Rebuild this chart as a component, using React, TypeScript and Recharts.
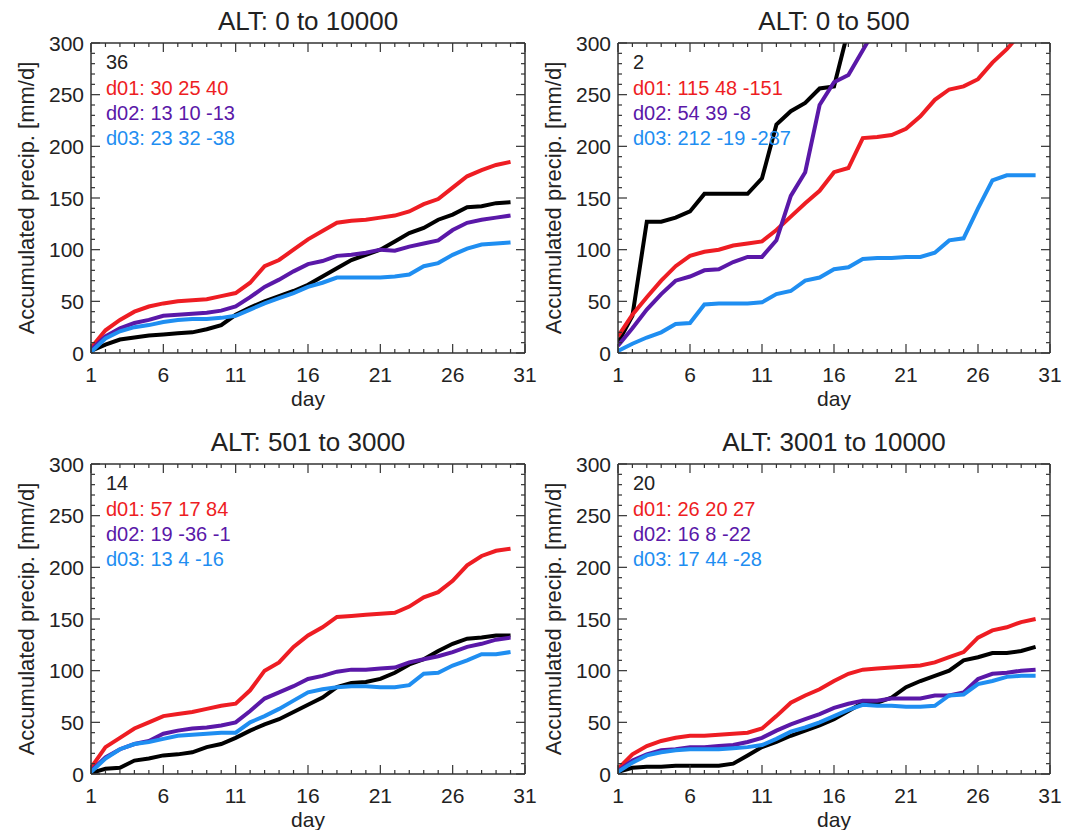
import React from 'react';
import { LineChart, Line, XAxis, YAxis } from 'recharts';

const DAYS = [1, 2, 3, 4, 5, 6, 7, 8, 9, 10, 11, 12, 13, 14, 15, 16, 17, 18, 19, 20, 21, 22, 23, 24, 25, 26, 27, 28, 29, 30];
const X_TICKS = [1, 2, 3, 4, 5, 6, 7, 8, 9, 10, 11, 12, 13, 14, 15, 16, 17, 18, 19, 20, 21, 22, 23, 24, 25, 26, 27, 28, 29, 30, 31];
const X_LABELS = [1, 6, 11, 16, 21, 26, 31];
const Y_TICKS = [0, 10, 20, 30, 40, 50, 60, 70, 80, 90, 100, 110, 120, 130, 140, 150, 160, 170, 180, 190, 200, 210, 220, 230, 240, 250, 260, 270, 280, 290, 300];
const Y_LABELS = [0, 50, 100, 150, 200, 250, 300];

// ALT: 0 to 10000
const OBS_ALL = [2, 8, 13, 15, 17, 18, 19, 20, 23, 27, 37, 44, 50, 55, 60, 66, 74, 82, 90, 95, 100, 108, 116, 121, 129, 134, 141, 142, 145, 146];
const D01_ALL = [5, 22, 32, 40, 45, 48, 50, 51, 52, 55, 58, 68, 84, 90, 100, 110, 118, 126, 128, 129, 131, 133, 137, 144, 149, 160, 171, 177, 182, 185];
const D02_ALL = [3, 16, 24, 29, 32, 36, 37, 38, 39, 41, 45, 54, 64, 71, 79, 86, 89, 94, 95, 97, 100, 99, 103, 106, 109, 119, 126, 129, 131, 133];
const D03_ALL = [1, 14, 21, 25, 27, 30, 32, 33, 33, 34, 36, 42, 48, 53, 58, 64, 68, 73, 73, 73, 73, 74, 76, 84, 87, 95, 101, 105, 106, 107];

// ALT: 0 to 500 (curves leave the frame at the top)
const OBS_LOW = [10, 36, 127, 127, 131, 137, 154, 154, 154, 154, 169, 221, 234, 242, 256, 258, 313, null, null, null, null, null, null, null, null, null, null, null, null, null];
const D01_LOW = [16, 37, 54, 70, 84, 94, 98, 100, 104, 106, 108, 119, 132, 145, 157, 175, 179, 208, 209, 211, 217, 229, 245, 255, 258, 265, 281, 294, 310, null];
const D02_LOW = [7, 24, 42, 57, 70, 74, 80, 81, 88, 93, 93, 109, 152, 175, 240, 262, 269, 293, 317, null, null, null, null, null, null, null, null, null, null, null];
const D03_LOW = [2, 9, 15, 20, 28, 29, 47, 48, 48, 48, 49, 57, 60, 70, 73, 81, 83, 91, 92, 92, 93, 93, 97, 109, 111, 140, 167, 172, 172, 172];

// ALT: 501 to 3000
const OBS_MID = [1, 5, 6, 13, 15, 18, 19, 21, 26, 29, 35, 42, 48, 53, 60, 67, 74, 84, 88, 89, 92, 98, 106, 111, 119, 126, 131, 132, 134, 134];
const D01_MID = [6, 26, 35, 44, 50, 56, 58, 60, 63, 66, 68, 81, 100, 108, 123, 134, 142, 152, 153, 154, 155, 156, 162, 171, 176, 187, 202, 211, 216, 218];
const D02_MID = [3, 16, 24, 29, 32, 39, 42, 44, 45, 47, 50, 61, 73, 79, 85, 92, 95, 99, 101, 101, 102, 103, 108, 111, 114, 118, 123, 126, 130, 132];
const D03_MID = [2, 15, 24, 29, 31, 34, 37, 38, 39, 40, 40, 50, 56, 63, 71, 79, 82, 84, 85, 85, 84, 84, 86, 97, 98, 105, 110, 116, 116, 118];

// ALT: 3001 to 10000
const OBS_HIGH = [2, 6, 7, 7, 8, 8, 8, 8, 10, 18, 26, 31, 37, 42, 47, 53, 61, 69, 69, 74, 84, 90, 95, 100, 110, 113, 117, 117, 119, 123];
const D01_HIGH = [5, 19, 27, 32, 35, 37, 37, 38, 39, 40, 44, 56, 69, 76, 82, 90, 97, 101, 102, 103, 104, 105, 108, 113, 118, 132, 139, 142, 147, 150];
const D02_HIGH = [3, 13, 19, 23, 24, 26, 26, 27, 28, 31, 35, 42, 48, 53, 58, 64, 68, 71, 71, 73, 73, 73, 76, 76, 79, 92, 97, 98, 100, 101];
const D03_HIGH = [2, 11, 18, 21, 23, 24, 24, 24, 25, 26, 28, 34, 41, 45, 50, 56, 62, 67, 66, 66, 65, 65, 66, 76, 77, 87, 90, 94, 95, 95];

const FONT = '"Liberation Sans", Arial, Helvetica, sans-serif';
const FRAME = '#333';
const TEXT = '#222';
const C_OBS = '#000000';
const C_D01 = '#ee1d23';
const C_D02 = '#5a18a8';
const C_D03 = '#1f8ef1';

const ML = 91;
const MT = 43;
const MR = 20;
const PLOT_H = 310;
const CHART_H = 415;

const BottomTick = (props: any) => {
  const { x, y, payload } = props;
  const major = X_LABELS.includes(payload.value);
  return (
    <g>
      <line x1={x} x2={x} y1={y} y2={y - (major ? 9 : 4)} stroke={FRAME} strokeWidth={1.2} />
      {major && (
        <text x={x} y={y + 21} textAnchor="middle" dominantBaseline="central" fontSize={21} fill={TEXT} fontFamily={FONT}>
          {payload.value}
        </text>
      )}
    </g>
  );
};

const TopTick = (props: any) => {
  const { x, y, payload } = props;
  const major = X_LABELS.includes(payload.value);
  return <line x1={x} x2={x} y1={y} y2={y + (major ? 9 : 4)} stroke={FRAME} strokeWidth={1.2} />;
};

const LeftTick = (props: any) => {
  const { x, y, payload } = props;
  const major = Y_LABELS.includes(payload.value);
  return (
    <g>
      <line x1={x} x2={x + (major ? 9 : 4)} y1={y} y2={y} stroke={FRAME} strokeWidth={1.2} />
      {major && (
        <text x={x - 7} y={y} textAnchor="end" dominantBaseline="central" fontSize={21} fill={TEXT} fontFamily={FONT}>
          {payload.value}
        </text>
      )}
    </g>
  );
};

const RightTick = (props: any) => {
  const { x, y, payload } = props;
  const major = Y_LABELS.includes(payload.value);
  return <line x1={x} x2={x - (major ? 9 : 4)} y1={y} y2={y} stroke={FRAME} strokeWidth={1.2} />;
};

interface PanelProps {
  title: string;
  count: string;
  stats: string[];
  obs: (number | null)[];
  d01: (number | null)[];
  d02: (number | null)[];
  d03: (number | null)[];
  plotLeft: number;
  plotTop: number;
  plotWidth: number;
}

function Panel({ title, count, stats, obs, d01, d02, d03, plotLeft, plotTop, plotWidth }: PanelProps) {
  const data = DAYS.map((day, i) => ({ day, obs: obs[i], d01: d01[i], d02: d02[i], d03: d03[i] }));
  const width = ML + plotWidth + MR;
  const cx = ML + plotWidth / 2;
  const statColors = [C_D01, C_D02, C_D03];
  const axisLine = { stroke: FRAME, strokeWidth: 1.5 };
  // axes are 1px thick (zero-size axes are not drawn), so margins give that pixel back
  const margin = { top: MT - 1, left: ML - 1, right: MR - 1, bottom: CHART_H - MT - PLOT_H - 1 };

  return (
    <div style={{ position: 'absolute', left: plotLeft - ML, top: plotTop - MT, width, height: CHART_H, fontFamily: FONT }}>
      <LineChart width={width} height={CHART_H} data={data} margin={margin}>
        <XAxis
          xAxisId="b"
          type="number"
          dataKey="day"
          domain={[1, 31]}
          ticks={X_TICKS}
          interval={0}
          allowDataOverflow
          height={1}
          tickSize={0}
          tickMargin={0}
          tickLine={false}
          axisLine={axisLine}
          tick={<BottomTick />}
        />
        <XAxis
          xAxisId="t"
          orientation="top"
          type="number"
          dataKey="day"
          domain={[1, 31]}
          ticks={X_TICKS}
          interval={0}
          allowDataOverflow
          height={1}
          tickSize={0}
          tickMargin={0}
          tickLine={false}
          axisLine={axisLine}
          tick={<TopTick />}
        />
        <YAxis
          yAxisId="l"
          type="number"
          domain={[0, 300]}
          ticks={Y_TICKS}
          interval={0}
          allowDataOverflow
          width={1}
          tickSize={0}
          tickMargin={0}
          tickLine={false}
          axisLine={axisLine}
          tick={<LeftTick />}
        />
        <YAxis
          yAxisId="r"
          orientation="right"
          type="number"
          domain={[0, 300]}
          ticks={Y_TICKS}
          interval={0}
          allowDataOverflow
          width={1}
          tickSize={0}
          tickMargin={0}
          tickLine={false}
          axisLine={axisLine}
          tick={<RightTick />}
        />
        <Line xAxisId="b" yAxisId="l" type="linear" dataKey="obs" stroke={C_OBS} strokeWidth={4} dot={false} isAnimationActive={false} />
        <Line xAxisId="b" yAxisId="l" type="linear" dataKey="d01" stroke={C_D01} strokeWidth={4} dot={false} isAnimationActive={false} />
        <Line xAxisId="b" yAxisId="l" type="linear" dataKey="d02" stroke={C_D02} strokeWidth={4} dot={false} isAnimationActive={false} />
        <Line xAxisId="b" yAxisId="l" type="linear" dataKey="d03" stroke={C_D03} strokeWidth={4} dot={false} isAnimationActive={false} />
      </LineChart>

      <div style={{ position: 'absolute', left: cx, top: 21, transform: 'translate(-50%, -50%)', fontSize: 26, lineHeight: '26px', color: TEXT, whiteSpace: 'nowrap' }}>
        {title}
      </div>
      <div style={{ position: 'absolute', left: 27, top: MT + PLOT_H / 2, transform: 'translate(-50%, -50%) rotate(-90deg)', fontSize: 22, lineHeight: '22px', color: TEXT, whiteSpace: 'nowrap' }}>
        Accumulated precip. [mm/d]
      </div>
      <div style={{ position: 'absolute', left: cx, top: MT + PLOT_H + 45, transform: 'translate(-50%, -50%)', fontSize: 21, lineHeight: '21px', color: TEXT }}>
        day
      </div>
      <div style={{ position: 'absolute', left: ML + 15, top: MT + 18.5 - 10, fontSize: 20, lineHeight: '20px', color: TEXT, whiteSpace: 'nowrap' }}>
        {count}
      </div>
      {stats.map((s, i) => (
        <div key={s} style={{ position: 'absolute', left: ML + 15, top: MT + 44.5 + i * 25 - 10, fontSize: 20, lineHeight: '20px', color: statColors[i], whiteSpace: 'nowrap' }}>
          {s}
        </div>
      ))}
    </div>
  );
}

export default function App() {
  return (
    <div style={{ position: 'absolute', left: 0, top: 0, width: 1070, height: 830, overflow: 'hidden', background: '#fff' }}>
      <Panel
        title="ALT: 0 to 10000"
        count="36"
        stats={['d01: 30 25 40', 'd02: 13 10 -13', 'd03: 23 32 -38']}
        obs={OBS_ALL}
        d01={D01_ALL}
        d02={D02_ALL}
        d03={D03_ALL}
        plotLeft={91}
        plotTop={43}
        plotWidth={434}
      />
      <Panel
        title="ALT: 0 to 500"
        count="2"
        stats={['d01: 115 48 -151', 'd02: 54 39 -8', 'd03: 212 -19 -287']}
        obs={OBS_LOW}
        d01={D01_LOW}
        d02={D02_LOW}
        d03={D03_LOW}
        plotLeft={618}
        plotTop={43}
        plotWidth={432}
      />
      <Panel
        title="ALT: 501 to 3000"
        count="14"
        stats={['d01: 57 17 84', 'd02: 19 -36 -1', 'd03: 13 4 -16']}
        obs={OBS_MID}
        d01={D01_MID}
        d02={D02_MID}
        d03={D03_MID}
        plotLeft={91}
        plotTop={464}
        plotWidth={434}
      />
      <Panel
        title="ALT: 3001 to 10000"
        count="20"
        stats={['d01: 26 20 27', 'd02: 16 8 -22', 'd03: 17 44 -28']}
        obs={OBS_HIGH}
        d01={D01_HIGH}
        d02={D02_HIGH}
        d03={D03_HIGH}
        plotLeft={618}
        plotTop={464}
        plotWidth={432}
      />
    </div>
  );
}
